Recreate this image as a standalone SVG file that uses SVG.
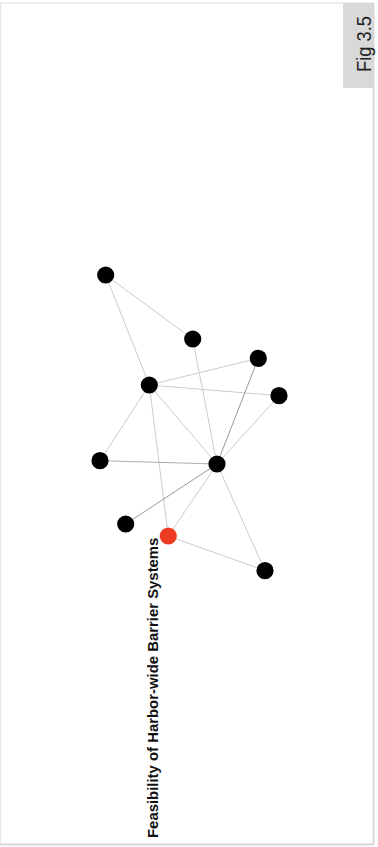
<svg xmlns="http://www.w3.org/2000/svg" width="378" height="847" viewBox="0 0 378 847">
<style>
.edge{stroke:#cccccc;stroke-width:1;fill:none}
.edge.dark{stroke:#999999}
.edge.mid{stroke:#b0b0b0}
.node{fill:#000000}
.node.hl{fill:#ee3b24}
.fig{font-family:"Liberation Sans",Arial,sans-serif;font-size:21px;fill:#222222}
.title{font-family:"Liberation Sans",Arial,sans-serif;font-size:14.9px;font-weight:bold;fill:#111111}
</style>
<rect x="0" y="0" width="378" height="847" fill="#ffffff"/>
<g id="frame">
<rect x="0.5" y="3" width="373" height="841.5" fill="none" stroke="#e6e6e6" stroke-width="1.5"/>
<line x1="373.5" y1="3" x2="373.5" y2="845" stroke="#d4d4d4" stroke-width="1.5"/>
<line x1="0" y1="844.5" x2="374" y2="844.5" stroke="#d4d4d4" stroke-width="1.5"/>
</g>
<g id="fig-label">
<rect x="343" y="3" width="30" height="85" fill="#d9d9d9"/>
<text class="fig" x="370.5" y="72" transform="rotate(-90 370.5 72)" textLength="56" lengthAdjust="spacingAndGlyphs">Fig 3.5</text>
</g>
<g id="connectors">
<line class="edge" x1="105.7" y1="275" x2="192.7" y2="339"/>
<line class="edge" x1="105.7" y1="275" x2="149.3" y2="385"/>
<line class="edge" x1="192.7" y1="339" x2="217" y2="464"/>
<line class="edge" x1="149.3" y1="385" x2="258.3" y2="358.3"/>
<line class="edge" x1="149.3" y1="385" x2="279" y2="395.7"/>
<line class="edge" x1="149.3" y1="385" x2="100" y2="460.7"/>
<line class="edge" x1="149.3" y1="385" x2="217" y2="464"/>
<line class="edge" x1="149.3" y1="385" x2="168.3" y2="536"/>
<line class="edge dark" x1="258.3" y1="358.3" x2="217" y2="464"/>
<line class="edge" x1="279" y1="395.7" x2="217" y2="464"/>
<line class="edge mid" x1="100" y1="460.7" x2="217" y2="464"/>
<line class="edge dark" x1="217" y1="464" x2="125.7" y2="524"/>
<line class="edge" x1="217" y1="464" x2="168.3" y2="536"/>
<line class="edge" x1="217" y1="464" x2="265" y2="570.7"/>
<line class="edge" x1="168.3" y1="536" x2="265" y2="570.7"/>
</g>
<g id="n1"><circle class="node" cx="105.7" cy="275" r="8.6"/></g>
<g id="n2"><circle class="node" cx="192.7" cy="339" r="8.6"/></g>
<g id="n3"><circle class="node" cx="258.3" cy="358.3" r="8.6"/></g>
<g id="n4"><circle class="node" cx="279" cy="395.7" r="8.6"/></g>
<g id="n5"><circle class="node" cx="149.3" cy="385" r="8.6"/></g>
<g id="n6"><circle class="node" cx="100" cy="460.7" r="8.6"/></g>
<g id="n7"><circle class="node" cx="217" cy="464" r="8.6"/></g>
<g id="n8"><circle class="node" cx="125.7" cy="524" r="8.6"/></g>
<g id="n9"><circle class="node hl" cx="168.3" cy="536" r="8.6"/>
<text class="title" x="158" y="838" transform="rotate(-90 158 838)">Feasibility of Harbor-wide Barrier Systems</text></g>
<g id="n10"><circle class="node" cx="265" cy="570.7" r="8.6"/></g>
</svg>
